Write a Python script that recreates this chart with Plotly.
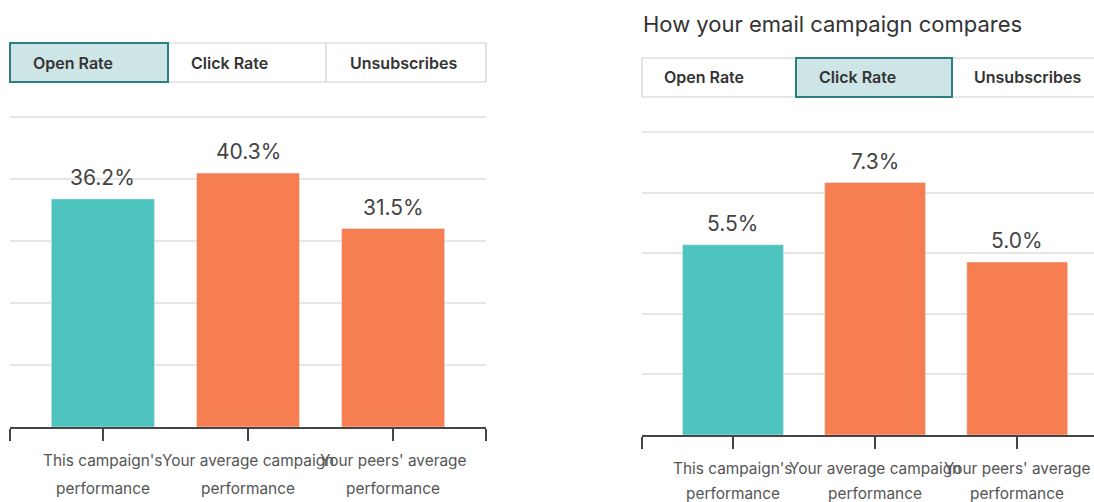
import plotly.graph_objects as go

# ---- data ----
cat_line1 = ["This campaign's", "Your average campaign", "Your peers' average"]
cat_line2 = ["performance", "performance", "performance"]
open_rate = [36.2, 40.3, 31.5]
click_rate = [5.5, 7.3, 5.0]
tab_labels = ["Open Rate", "Click Rate", "Unsubscribes"]
title_text = "How your email campaign compares"
bar_colors = ["#4ec4bf", "#f77e50", "#f77e50"]

W, H = 1094, 502
FONT = "Inter"
cat_pos = [0, 1, 2]


def px(x):
    return x / W


def py(y):
    return 1 - y / H


fig = go.Figure()

fig.add_trace(go.Bar(x=cat_pos, y=open_rate, marker_color=bar_colors, width=0.71,
                     xaxis="x", yaxis="y", hoverinfo="skip"))
fig.add_trace(go.Bar(x=cat_pos, y=click_rate, marker_color=bar_colors, width=0.71,
                     xaxis="x2", yaxis="y2", hoverinfo="skip"))

axis_common_x = dict(showgrid=False, zeroline=False, showline=True, linecolor="#444",
                     linewidth=1.5, ticks="outside", ticklen=12, tickwidth=1.5,
                     tickcolor="#444", showticklabels=False, fixedrange=True)
axis_common_y = dict(showgrid=True, gridcolor="#e6e6e6", gridwidth=1.5, zeroline=False,
                     showline=False, showticklabels=False, ticks="", fixedrange=True)

L_RMAX = 49.2
R_RMAX = 8.76
PAD = 1.03


def y_axis(base_px, top_px, rmax):
    # extend range a bit above the top gridline so it is drawn
    ppu = (base_px - top_px) / rmax
    top = base_px - rmax * PAD * ppu
    return dict(domain=[py(base_px), py(top)], range=[0, rmax * PAD],
                tickvals=[rmax * i / 5 for i in range(6)], **axis_common_y)


fig.update_layout(
    width=W, height=H, margin=dict(l=0, r=0, t=0, b=0),
    paper_bgcolor="white", plot_bgcolor="white", showlegend=False,
    font=dict(family=FONT, color="#444"),
    xaxis=dict(domain=[px(10), px(486)], range=[-0.64, 2.64],
               tickvals=[-0.64, 0, 1, 2, 2.64], **axis_common_x),
    yaxis=y_axis(427, 117, L_RMAX),
    xaxis2=dict(domain=[px(642), 1.0], range=[-0.64, 2.54], anchor="y2",
                tickvals=[-0.64, 0, 1, 2], **axis_common_x),
    yaxis2=dict(anchor="x2", **y_axis(435, 132, R_RMAX)),
)

shapes = []
annotations = []

# value labels
for xa, ya, vals in (("x", "y", open_rate), ("x2", "y2", click_rate)):
    for c, v in zip(cat_pos, vals):
        annotations.append(dict(x=c, y=v, xref=xa, yref=ya, text=f"{v:.1f}%",
                                showarrow=False, yanchor="bottom", yshift=7,
                                font=dict(size=21, color="#444", family=FONT)))

# category labels
for xa, y1, y2 in (("x", 460, 488), ("x2", 468, 493)):
    for c, l1, l2 in zip(cat_pos, cat_line1, cat_line2):
        annotations.append(dict(x=c, y=py(y1), xref=xa, yref="paper", text=l1,
                                showarrow=False, yanchor="middle",
                                font=dict(size=15.4, color="#555", family=FONT)))
        annotations.append(dict(x=c, y=py(y2), xref=xa, yref="paper", text=l2,
                                showarrow=False, yanchor="middle",
                                font=dict(size=15.4, color="#555", family=FONT)))


# tabs
def add_tabs(x0, x1, xd1, xd2, y0, y1, sel, text_x):
    shapes.append(dict(type="rect", xref="paper", yref="paper", x0=px(x0), x1=px(x1),
                       y0=py(y1), y1=py(y0), line=dict(color="#cfcfcf", width=1.2),
                       fillcolor="white", layer="above"))
    for xd in (xd1, xd2):
        shapes.append(dict(type="line", xref="paper", yref="paper", x0=px(xd), x1=px(xd),
                           y0=py(y1), y1=py(y0), line=dict(color="#cfcfcf", width=1.2)))
    bounds = [(x0, xd1), (xd1, xd2), (xd2, x1)]
    sx0, sx1 = bounds[sel]
    shapes.append(dict(type="rect", xref="paper", yref="paper", x0=px(sx0), x1=px(sx1),
                       y0=py(y1), y1=py(y0), line=dict(color="#2b7e81", width=2),
                       fillcolor="#cde5e7", layer="above"))
    for lbl, tx in zip(tab_labels, text_x):
        annotations.append(dict(x=px(tx), y=py((y0 + y1) / 2), xref="paper", yref="paper",
                                text=lbl, showarrow=False, xanchor="left", yanchor="middle",
                                font=dict(size=16, color="#333", family=FONT, weight=600)))


add_tabs(10, 486, 168, 326, 43, 82, 0, [31, 189, 348])
add_tabs(642, 1100, 796, 952, 58, 97, 1, [662, 817, 972])

annotations.append(dict(x=px(641), y=py(24), xref="paper", yref="paper", text=title_text,
                        showarrow=False, xanchor="left", yanchor="middle",
                        font=dict(size=22, color="#333", family=FONT)))

fig.update_layout(shapes=shapes, annotations=annotations)

fig.write_html("out.html", config={"displayModeBar": False},
               post_script="document.body.style.margin='0';document.body.style.overflow='hidden';")
